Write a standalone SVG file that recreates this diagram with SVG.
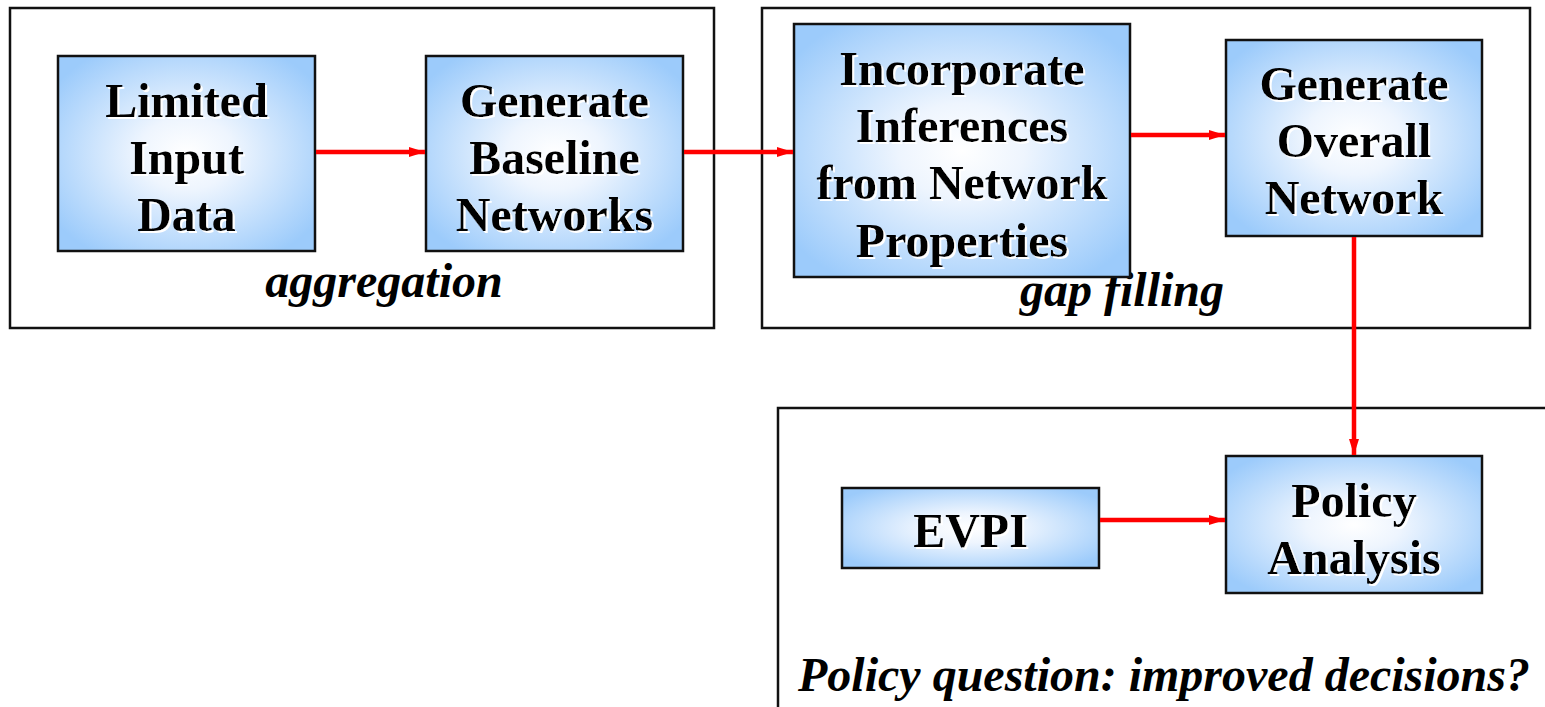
<svg xmlns="http://www.w3.org/2000/svg" width="1545" height="707" viewBox="0 0 1545 707">
<defs>
<radialGradient id="g" cx="0.5" cy="0.5" r="0.62">
<stop offset="0" stop-color="#ffffff"/>
<stop offset="0.3" stop-color="#eef5fe"/>
<stop offset="1" stop-color="#9ccbfb"/>
</radialGradient>
<marker id="ah" markerWidth="16" markerHeight="10" refX="16" refY="5" orient="auto" markerUnits="userSpaceOnUse">
<path d="M0,0 L16,5 L0,10 z" fill="#ff0000"/>
</marker>
<filter id="sh" x="-5%" y="-5%" width="110%" height="110%">
<feFlood flood-color="#ffffff"/>
<feComposite in2="SourceAlpha" operator="in"/>
<feOffset dx="2" dy="2" result="s"/>
<feMerge><feMergeNode in="s"/><feMergeNode in="SourceGraphic"/></feMerge>
</filter>
</defs>
<style>
.frame{fill:none;stroke:#111;stroke-width:2.5}
.box{fill:url(#g);stroke:#111;stroke-width:2.5}
.t{font-family:"Liberation Serif","Times New Roman",serif;font-weight:bold;font-size:48px;fill:#000;text-anchor:middle;filter:url(#sh)}
.lab{font-family:"Liberation Serif","Times New Roman",serif;font-weight:bold;font-style:italic;font-size:48px;fill:#000;text-anchor:middle}
.c{stroke:#ff0000;stroke-width:4.5;fill:none;marker-end:url(#ah)}
</style>
<g id="frame-aggregation">
<rect class="frame" x="10" y="8" width="704" height="320"/>
<text class="lab" x="384" y="297">aggregation</text>
</g>
<g id="frame-gap-filling">
<rect class="frame" x="762" y="8" width="768" height="320"/>
<text class="lab" x="1122" y="306">gap filling</text>
</g>
<g id="frame-policy">
<path class="frame" d="M778,707 V408 H1545"/>
<text class="lab" x="1164" y="691">Policy question: improved decisions?</text>
</g>
<g id="node-limited">
<rect class="box" x="58" y="56" width="257" height="195"/>
<text class="t" x="186.5" y="117">Limited</text>
<text class="t" x="186.5" y="174">Input</text>
<text class="t" x="186.5" y="231">Data</text>
</g>
<g id="node-baseline">
<rect class="box" x="426" y="56" width="257" height="195"/>
<text class="t" x="554.5" y="117">Generate</text>
<text class="t" x="554.5" y="174">Baseline</text>
<text class="t" x="554.5" y="231">Networks</text>
</g>
<g id="node-incorporate">
<rect class="box" x="794" y="24" width="336" height="253"/>
<text class="t" x="962" y="85">Incorporate</text>
<text class="t" x="962" y="142">Inferences</text>
<text class="t" x="962" y="199">from Network</text>
<text class="t" x="962" y="257">Properties</text>
</g>
<g id="node-overall">
<rect class="box" x="1226" y="40" width="256" height="196"/>
<text class="t" x="1354" y="100">Generate</text>
<text class="t" x="1354" y="157">Overall</text>
<text class="t" x="1354" y="214">Network</text>
</g>
<g id="node-evpi">
<rect class="box" x="842" y="488" width="257" height="80"/>
<text class="t" x="970.5" y="547">EVPI</text>
</g>
<g id="node-policy">
<rect class="box" x="1226" y="456" width="256" height="137"/>
<text class="t" x="1354" y="517">Policy</text>
<text class="t" x="1354" y="574">Analysis</text>
</g>
<g id="connectors">
<line class="c" x1="316" y1="152" x2="425" y2="152"/>
<line class="c" x1="684" y1="152" x2="793" y2="152"/>
<line class="c" x1="1131" y1="135" x2="1225" y2="135"/>
<line class="c" x1="1354" y1="237" x2="1354" y2="455"/>
<line class="c" x1="1100" y1="520" x2="1225" y2="520"/>
</g>
</svg>
